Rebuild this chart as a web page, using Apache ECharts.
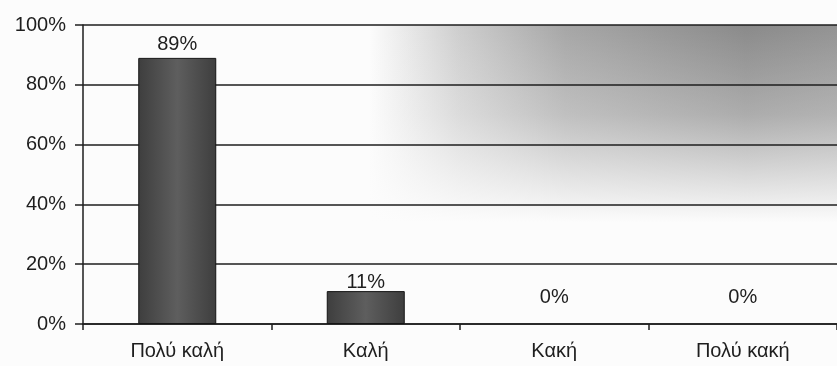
<!DOCTYPE html>
<html>
<head>
<meta charset="utf-8">
<script src="https://cdn.jsdelivr.net/npm/echarts@6/dist/echarts.min.js"></script>
<style>
  html, body { margin: 0; padding: 0; background: #fcfcfc; }
  #chart { width: 837px; height: 366px; }
</style>
</head>
<body>
<div id="chart"></div>
<script>
// Ratings and their share of responses (percent)
const categories = ['Πολύ καλή', 'Καλή', 'Κακή', 'Πολύ κακή'];
const shares = [89, 11, 0, 0];
const yTicks = { min: 0, max: 100, interval: 20 };

const FONT = '"Liberation Sans", Arial, sans-serif';
const INK = '#1e1e1e';
const PAPER = '#fcfcfc';

// Bars: darker edges, lighter middle
const barFill = new echarts.graphic.LinearGradient(0, 0, 1, 0, [
  { offset: 0, color: '#3e3e3e' },
  { offset: 0.5, color: '#5e5e5e' },
  { offset: 1, color: '#3e3e3e' }
]);

// Plot backdrop: gray towards the right ...
const plotShade = new echarts.graphic.LinearGradient(0, 0, 1, 0, [
  { offset: 0, color: PAPER },
  { offset: 0.38, color: PAPER },
  { offset: 0.5, color: '#cdcdcd' },
  { offset: 0.64, color: '#a6a6a6' },
  { offset: 0.88, color: '#8a8a8a' },
  { offset: 1, color: '#939393' }
]);
// ... washed out towards the bottom
const plotWash = new echarts.graphic.LinearGradient(0, 0, 0, 1, [
  { offset: 0, color: 'rgba(252,252,252,0)' },
  { offset: 0.3, color: 'rgba(252,252,252,0.3)' },
  { offset: 0.66, color: 'rgba(252,252,252,1)' },
  { offset: 1, color: 'rgba(252,252,252,1)' }
]);

const chart = echarts.init(document.getElementById('chart'), null, { renderer: 'canvas' });
chart.setOption({
  animation: false,
  backgroundColor: PAPER,
  grid: {
    left: 83, top: 25, width: 760, height: 299,
    show: true,
    borderWidth: 0,
    backgroundColor: plotShade
  },
  xAxis: {
    type: 'category',
    data: categories,
    z: 2,
    axisLine: { lineStyle: { color: INK, width: 1.5 } },
    axisTick: { show: true, length: 6, lineStyle: { color: INK, width: 1.5 } },
    axisLabel: { color: INK, fontFamily: FONT, fontSize: 20, margin: 17 },
    splitLine: { show: false }
  },
  yAxis: {
    type: 'value',
    min: yTicks.min, max: yTicks.max, interval: yTicks.interval,
    z: 2,
    axisLine: { show: true, lineStyle: { color: INK, width: 1.5 } },
    axisTick: { show: true, length: 8, lineStyle: { color: INK, width: 1.5 } },
    axisLabel: { color: INK, fontFamily: FONT, fontSize: 20, margin: 17, formatter: '{value}%' },
    splitLine: { show: true, lineStyle: { color: INK, width: 1.6 } }
  },
  series: [{
    type: 'bar',
    z: 3,
    data: shares.map(v => ({
      value: v,
      itemStyle: v === 0 ? { borderWidth: 0 } : undefined,
      label: { distance: v === 0 ? 17 : (v < 20 ? -1 : 3) }
    })),
    barWidth: 78,
    itemStyle: { color: barFill, borderColor: '#151515', borderWidth: 1 },
    label: {
      show: true,
      position: 'top',
      formatter: '{c}%',
      color: INK,
      fontFamily: FONT,
      fontSize: 20
    },
    markArea: {
      silent: true,
      z: 1,
      itemStyle: { color: plotWash, borderWidth: 0 },
      data: [[{ yAxis: yTicks.max }, { yAxis: yTicks.min }]]
    }
  }]
});
</script>
</body>
</html>
